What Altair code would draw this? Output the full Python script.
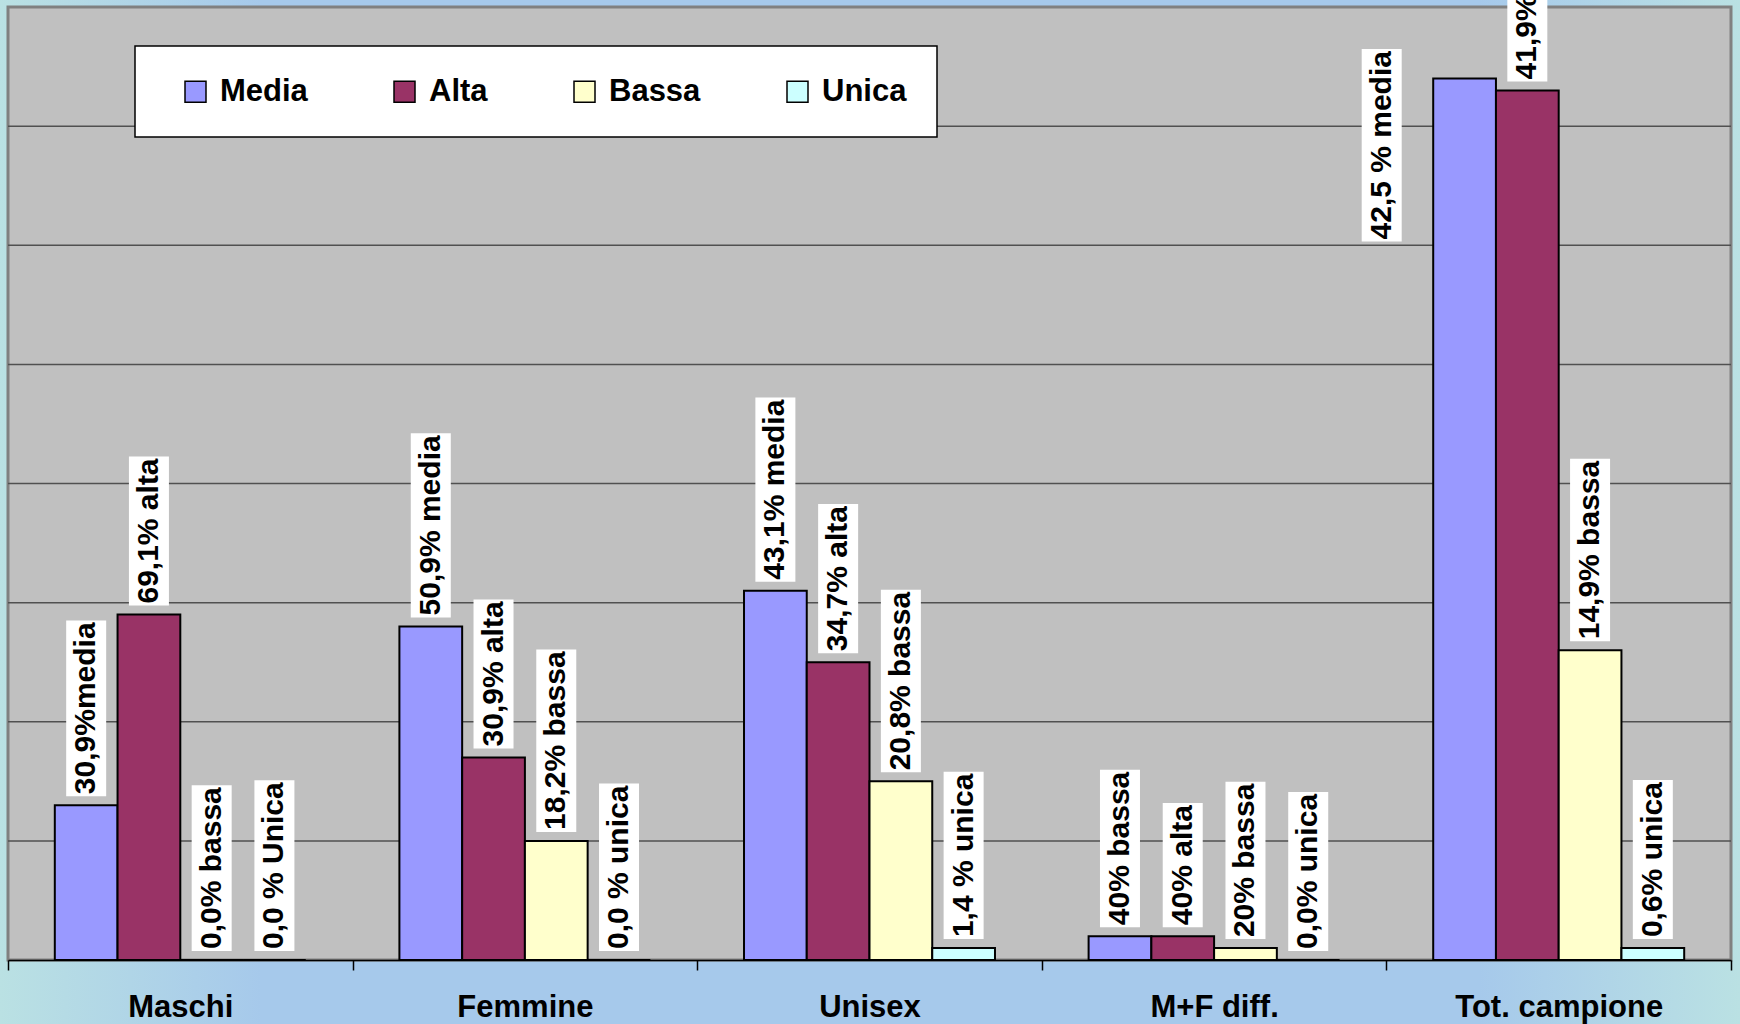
import altair as alt
import pandas as pd

# Categories and series
categories = ["Maschi", "Femmine", "Unisex", "M+F diff.", "Tot. campione"]
series = ["Media", "Alta", "Bassa", "Unica"]

# Counts per series, one value per category
media = [13, 28, 31, 2, 74]
alta = [29, 17, 25, 2, 73]
bassa = [0, 10, 15, 1, 26]
unica = [0, 0, 1, 0, 1]

# Text shown above each bar
media_labels = ["30,9%media", "50,9% media", "43,1% media", "40% bassa", "42,5 % media"]
alta_labels = ["69,1% alta", "30,9% alta", "34,7% alta", "40% alta", "41,9% alta"]
bassa_labels = ["0,0% bassa", "18,2% bassa", "20,8% bassa", "20% bassa", "14,9% bassa"]
unica_labels = ["0,0 % Unica", "0,0 % unica", "1,4 % unica", "0,0% unica", "0,6% unica"]

# Horizontal gridline values
grid_values = [10, 20, 30, 40, 50, 60, 70]

colors = ["#9999FF", "#993366", "#FFFFCC", "#CCFFFF"]

PLOT_W, PLOT_H = 1723, 953
PAD_L, PAD_T, PAD_R, PAD_B = 8, 7, 9, 64
Y_MAX = 80
FONT = "Liberation Sans"
LABEL_SIZE = 30
GAP, PAD = 9, 2          # pixel gap above a bar, padding inside a label box
px_per_unit = PLOT_H / Y_MAX

# Advance widths of Arial/Liberation Sans Bold (per 1000 em)
ADV = {",": 278, "%": 889, " ": 278, ".": 278, "a": 556, "b": 611, "c": 556,
       "d": 611, "e": 556, "i": 278, "l": 278, "m": 889, "n": 611, "s": 556,
       "t": 333, "u": 611, "U": 722}


def text_width(s):
    return sum(556 if ch.isdigit() else ADV.get(ch, 556) for ch in s) * LABEL_SIZE / 1000


rows = []
for s, vals, labs in zip(series, [media, alta, bassa, unica],
                         [media_labels, alta_labels, bassa_labels, unica_labels]):
    for c, v, lab in zip(categories, vals, labs):
        length = text_width(lab) + 2 * PAD
        rows.append(dict(
            categoria=c, serie=s, valore=v, etichetta=lab,
            box_lo=v + GAP / px_per_unit,
            box_hi=v + (GAP + length) / px_per_unit,
            text_y=v + (GAP + PAD) / px_per_unit,
        ))
df = pd.DataFrame(rows)

# Bands fill the whole step so ticks fall on category boundaries;
# the bar group is narrowed through the offset scale's outer padding.
x_scale = alt.Scale(paddingInner=0, paddingOuter=0)
x_axis = alt.Axis(title=None, labelAngle=0, labelFont=FONT, labelFontSize=31,
                  labelFontWeight="bold", labelColor="black", labelPadding=22,
                  labelLimit=400, tickBand="extent", tickSize=10, tickColor="black",
                  tickWidth=1.5, domainColor="black", domainWidth=1.5, grid=False,
                  zindex=1)
y_scale = alt.Scale(domain=[0, Y_MAX], nice=False, zero=True)

x_enc = alt.X("categoria:N", sort=categories, scale=x_scale, axis=x_axis)
xoff = alt.XOffset("serie:N", sort=series,
                   scale=alt.Scale(paddingInner=0, paddingOuter=0.746))


def y_enc(field):
    return alt.Y(field, scale=y_scale, axis=None)


legend = alt.Legend(
    title=" ", titleOrient="left", titleFontSize=30, titlePadding=15,
    orient="none", legendX=127, legendY=39, direction="horizontal",
    columnPadding=81, symbolType="square", symbolSize=441,
    symbolStrokeColor="black", symbolStrokeWidth=1.5,
    labelFont=FONT, labelFontSize=31, labelFontWeight="bold", labelColor="black",
    labelOffset=9, padding=30, fillColor="white", strokeColor="black",
)

# Page backdrop with a soft cyan-blue-cyan gradient, then the grey plot area
backdrop = alt.Chart(alt.Data(values=[{}])).mark_rect(
    fill=alt.Gradient(
        gradient="linear", x1=0, x2=1, y1=0, y2=0,
        stops=[alt.GradientStop(color="#bae1e3", offset=0),
               alt.GradientStop(color="#a6c9eb", offset=0.15),
               alt.GradientStop(color="#a6c9eb", offset=0.85),
               alt.GradientStop(color="#bae1e3", offset=1)],
    )
).encode(
    x=alt.value(-PAD_L), x2=alt.value(PLOT_W + PAD_R),
    y=alt.value(-PAD_T), y2=alt.value(PLOT_H + PAD_B),
)
plot_area = alt.Chart(alt.Data(values=[{}])).mark_rect(
    fill="#C0C0C0", stroke="#808080", strokeWidth=3
).encode(
    x=alt.value(0), x2=alt.value(PLOT_W), y=alt.value(0), y2=alt.value(PLOT_H),
)
grid = alt.Chart(pd.DataFrame({"g": grid_values})).mark_rule(
    color="#505050", strokeWidth=1.5
).encode(y=y_enc("g:Q"))

base = alt.Chart(df)

bars = base.mark_bar(stroke="black", strokeWidth=2).encode(
    x=x_enc,
    xOffset=xoff,
    y=y_enc("valore:Q"),
    color=alt.Color("serie:N", sort=series,
                    scale=alt.Scale(domain=series, range=colors), legend=legend),
)

is_moved = (alt.datum.categoria == "Tot. campione") & (alt.datum.serie == "Media")

normal = base.transform_filter(~is_moved)
boxes = normal.mark_bar(color="white", width=40).encode(
    x=x_enc, xOffset=xoff,
    y=y_enc("box_lo:Q"), y2="box_hi:Q",
)
texts = normal.mark_text(angle=270, align="left", baseline="middle", font=FONT,
                         fontSize=LABEL_SIZE, fontWeight="bold", color="black").encode(
    x=x_enc, xOffset=xoff,
    y=y_enc("text_y:Q"), text="etichetta:N",
)

# The total-sample "media" label sits to the left of its bar, lower down
moved = base.transform_filter(is_moved)
moved_box = moved.mark_bar(color="white", width=40, xOffset=-177,
                           yOffset=172, y2Offset=172).encode(
    x=x_enc,
    y=y_enc("box_lo:Q"), y2="box_hi:Q",
)
moved_text = moved.mark_text(angle=270, align="left", baseline="middle", font=FONT,
                             fontSize=LABEL_SIZE, fontWeight="bold", color="black",
                             xOffset=-177, yOffset=172).encode(
    x=x_enc,
    y=y_enc("text_y:Q"), text="etichetta:N",
)

chart = alt.layer(
    backdrop, plot_area, grid, bars, boxes, texts, moved_box, moved_text
).properties(
    width=PLOT_W, height=PLOT_H,
    autosize=alt.AutoSizeParams(type="none"),
    padding={"left": PAD_L, "top": PAD_T, "right": PAD_R, "bottom": PAD_B},
    background="#a6c9eb",
).configure_view(
    strokeWidth=0,
).configure_legend(strokeWidth=1.5)

chart.save("out.html", embed_options={"renderer": "svg", "actions": False})
